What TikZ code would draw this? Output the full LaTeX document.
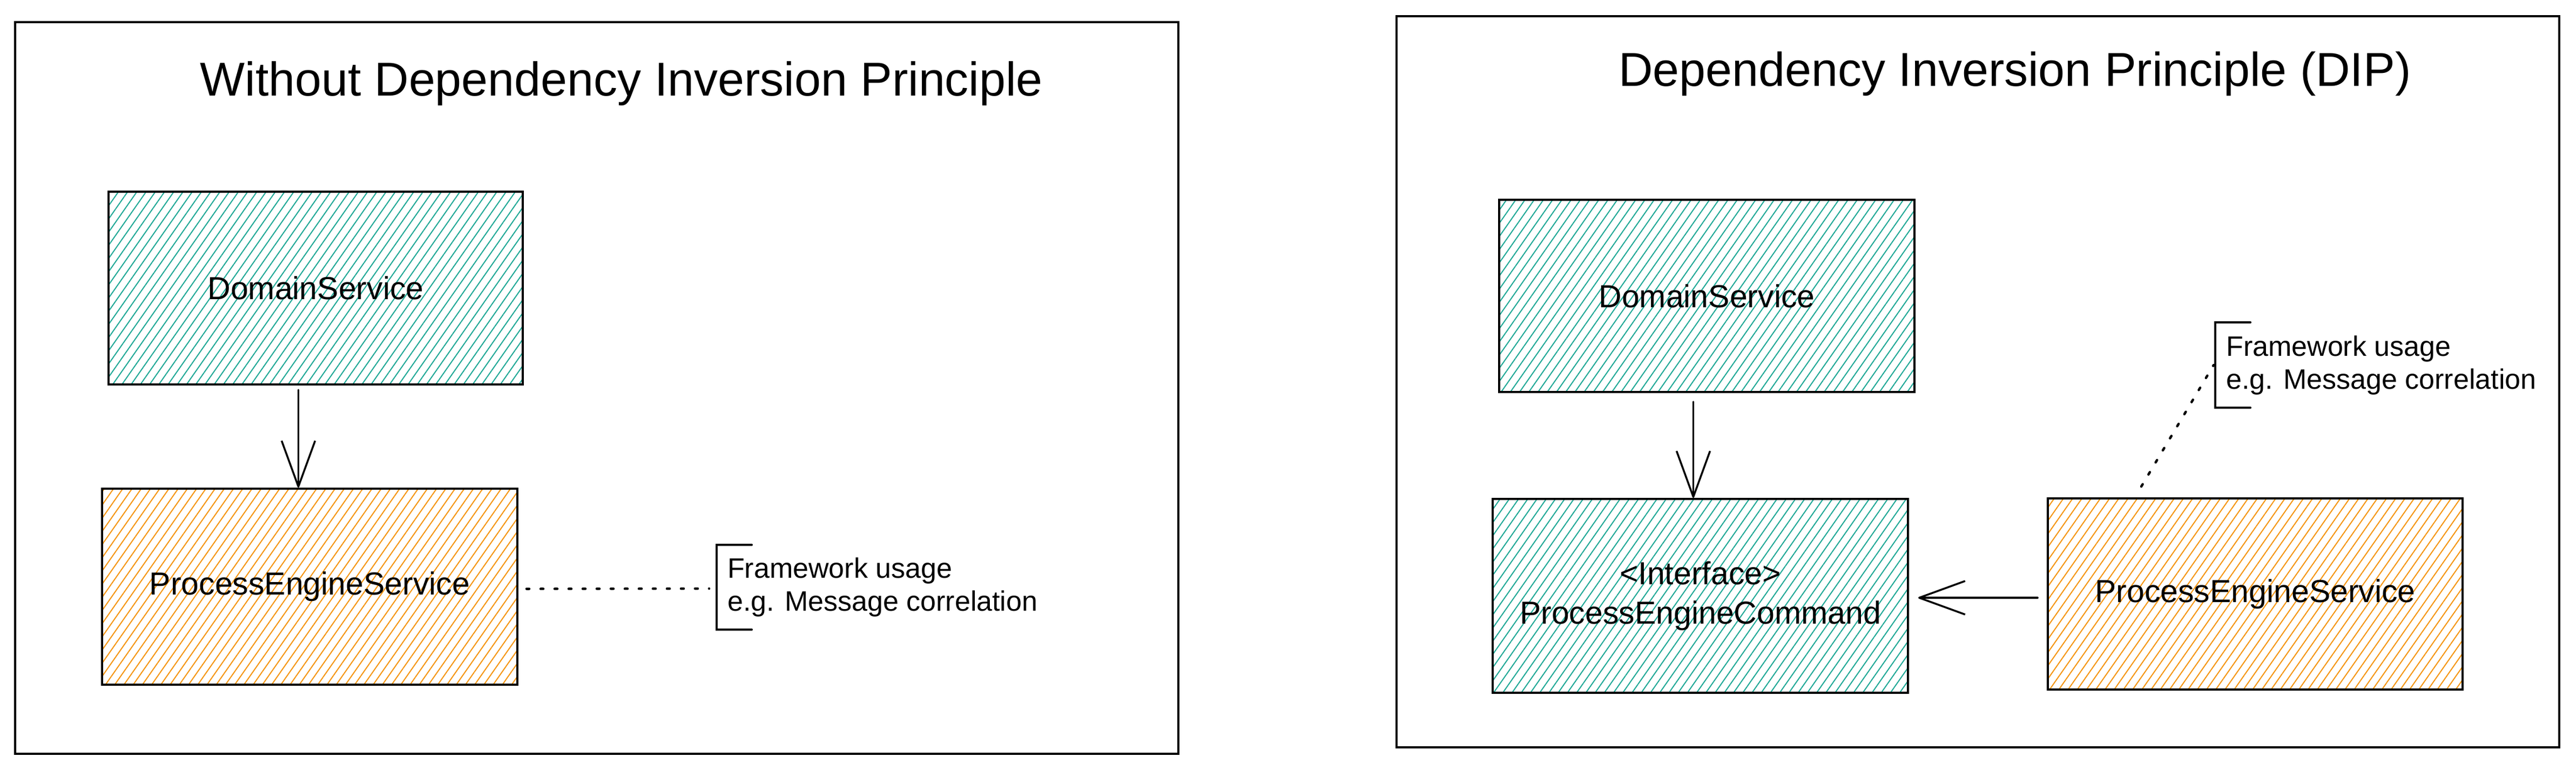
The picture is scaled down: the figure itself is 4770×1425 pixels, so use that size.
\documentclass[tikz,border=0pt]{standalone}
\usepackage{fontspec}
\setmainfont{Liberation Sans}
\usetikzlibrary{arrows.meta,patterns.meta}
\definecolor{hteal}{HTML}{1FA896}
\definecolor{horange}{HTML}{F5950F}
\tikzset{
  frame/.style={draw=black, line width=4pt, inner sep=0pt, minimum width=#1},
  titletext/.style={font=\fontsize{88}{100}\selectfont, anchor=base, inner sep=0pt},
  boxbase/.style={draw=black, line width=4pt, inner sep=0pt, align=center,
    font=\fontsize{59}{73}\selectfont},
  tealbox/.style={boxbase, pattern={Lines[angle=55,distance=14pt,line width=2pt]}, pattern color=hteal},
  orangebox/.style={boxbase, pattern={Lines[angle=55,distance=14pt,line width=2pt]}, pattern color=horange},
  note/.style={font=\fontsize{52}{61}\selectfont, align=left, anchor=west, inner sep=0pt},
  bracketline/.style={draw=black, line width=4pt, line cap=round, line join=miter},
  depend/.style={draw=black, line width=3.5pt, line cap=round,
    -{Straight Barb[length=85pt,width=62pt,line join=round]}},
  dotline/.style={draw=black, line width=4.5pt, line cap=round, dash pattern=on 5pt off 21pt},
}
\begin{document}
\begin{tikzpicture}[x=1pt,y=-1pt]
\useasboundingbox (0,0) rectangle (4770,1425);
\fill[white] (0,0) rectangle (4770,1425);

% frames
\node[frame=2154pt, minimum height=1355pt] (lframe) at (1105,718.5) {};
\node[frame=2153pt, minimum height=1354pt] (rframe) at (3662.5,707) {};

% titles
\node[titletext] (ltitle) at (1151,177) {Without Dependency Inversion Principle};
\node[titletext] (rtitle) at (3731,159) {Dependency Inversion Principle (DIP)};

% left diagram
\node[tealbox, minimum width=767pt, minimum height=357pt] (lds) at (584.5,533.5) {DomainService};
\node[orangebox, minimum width=769pt, minimum height=363pt] (lpes) at (573.5,1086.5) {ProcessEngineService};
\draw[depend] ([xshift=-32pt,yshift=-9pt]lds.south) -- ([xshift=-21pt]lpes.north);

\node[note] (lnote) at (1347,1088) {Framework usage\\e.g. Message correlation};
\coordinate (lbr) at (1327,1090);
\draw[bracketline] (1392,1009) -- (1327,1009) -- (1327,1166) -- (1392,1166);
\draw[dotline] ([xshift=15pt,yshift=-4pt]lpes.east) -- ([xshift=-14pt]lbr);

% right diagram
\node[tealbox, minimum width=769pt, minimum height=356pt] (rds) at (3160.5,548) {DomainService};
\node[tealbox, minimum width=769pt, minimum height=359pt] (rif) at (3148.5,1103.5) {<Interface>\\ProcessEngineCommand};
\node[orangebox, minimum width=768pt, minimum height=354pt] (rpes) at (4176,1100) {ProcessEngineService};
\draw[depend] ([xshift=-25pt,yshift=-16pt]rds.south) -- ([xshift=-13pt]rif.north);
\draw[depend] ([xshift=-17pt,yshift=-7pt]rpes.west) -- ([xshift=17pt,yshift=-3.5pt]rif.east);

\node[note] (rnote) at (4122,677) {Framework usage\\e.g. Message correlation};
\coordinate (rbr) at (4102,676);
\draw[bracketline] (4167,597) -- (4102,597) -- (4102,755) -- (4167,755);
\draw[dotline] ([xshift=-211pt,yshift=20pt]rpes.north) -- ([xshift=-3pt]rbr);
\end{tikzpicture}
\end{document}
